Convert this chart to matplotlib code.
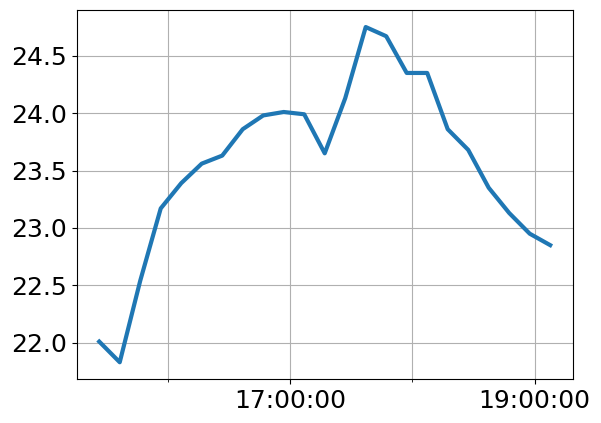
import numpy as np
import pandas as pd
import matplotlib
matplotlib.use('Agg')
import matplotlib.pyplot as plt
import matplotlib.dates as mdates

# readings roughly every 10 minutes
start_time = '2021-06-01 15:26:10'
n_points = 23
temps = [22.01, 21.83, 22.54, 23.17, 23.39, 23.56, 23.63, 23.86, 23.98, 24.01,
         23.99, 23.65, 24.13, 24.75, 24.67, 24.35, 24.35, 23.86, 23.68, 23.35,
         23.13, 22.95, 22.85]

times = pd.date_range(start_time, periods=n_points, freq='604s')

fig = plt.figure(figsize=(6.01, 4.23), dpi=100)
ax = fig.add_subplot(111)
fig.subplots_adjust(left=0.1276, right=0.953, top=0.9757, bottom=0.104)

ax.plot(times, temps, linewidth=3, color='#1f77b4')

ax.xaxis.set_major_locator(mdates.HourLocator(byhour=[17, 19]))
ax.xaxis.set_minor_locator(mdates.HourLocator())
ax.xaxis.set_major_formatter(mdates.DateFormatter('%H:%M:%S'))
ax.grid(which='both')
ax.tick_params(labelsize=18)

fig.savefig('out.png', dpi=100)
